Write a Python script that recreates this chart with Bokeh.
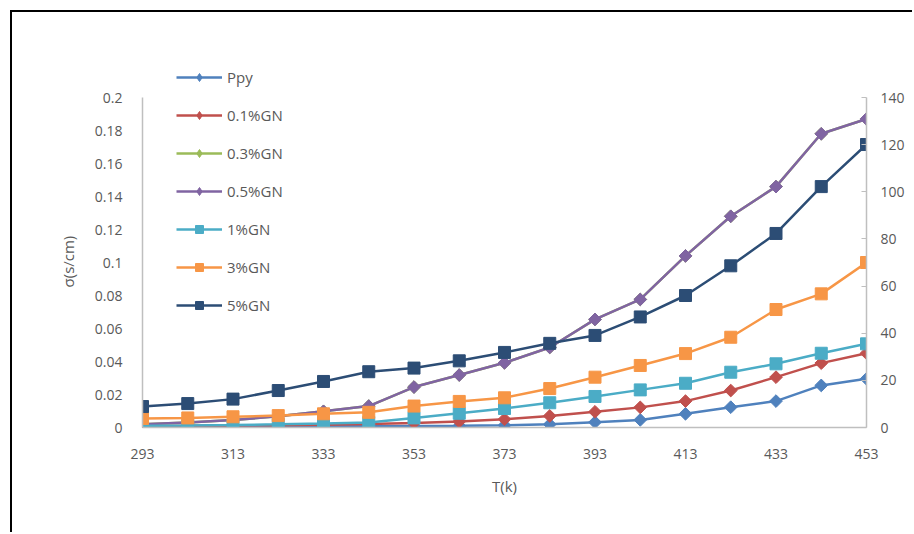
import math
from bokeh.plotting import figure
from bokeh.models import (Range1d, LinearAxis, FixedTicker, CustomJSTickFormatter,
                          Legend, LegendItem)
from bokeh.embed import file_html
from bokeh.resources import INLINE

# ---- data (sigma, S/cm) ----
temps = [293, 303, 313, 323, 333, 343, 353, 363, 373, 383, 393, 403, 413, 423, 433, 443, 453]
ppy = [0.0004, 0.0005, 0.0006, 0.0006, 0.0007, 0.0008, 0.0009, 0.0010, 0.0013, 0.0019, 0.0032, 0.0046, 0.0083, 0.0123, 0.0160, 0.0255, 0.0295]
gn01 = [0.0008, 0.0010, 0.0012, 0.0014, 0.0017, 0.0021, 0.0028, 0.0036, 0.0050, 0.0070, 0.0095, 0.0122, 0.0160, 0.0224, 0.0305, 0.0390, 0.0450]
gn03 = [0.0020, 0.0030, 0.0045, 0.0068, 0.0098, 0.0130, 0.0245, 0.0318, 0.0392, 0.0485, 0.0655, 0.0776, 0.1040, 0.1280, 0.1460, 0.1780, 0.1870]
gn05 = [0.0020, 0.0030, 0.0045, 0.0068, 0.0098, 0.0130, 0.0245, 0.0318, 0.0392, 0.0485, 0.0655, 0.0776, 0.1040, 0.1280, 0.1460, 0.1780, 0.1870]
gn1 = [0.0010, 0.0012, 0.0015, 0.0019, 0.0024, 0.0030, 0.0058, 0.0086, 0.0115, 0.0150, 0.0188, 0.0228, 0.0268, 0.0335, 0.0386, 0.0450, 0.0507]
gn3 = [0.0055, 0.0058, 0.0065, 0.0072, 0.0083, 0.0092, 0.0130, 0.0158, 0.0180, 0.0236, 0.0305, 0.0376, 0.0448, 0.0547, 0.0715, 0.0810, 0.1000]
gn5 = [0.0127, 0.0145, 0.0172, 0.0224, 0.0279, 0.0338, 0.0360, 0.0404, 0.0455, 0.0510, 0.0558, 0.0670, 0.0800, 0.0980, 0.1176, 0.1460, 0.1715]

names = ["Ppy", "0.1%GN", "0.3%GN", "0.5%GN", "1%GN", "3%GN", "5%GN"]
series = [ppy, gn01, gn03, gn05, gn1, gn3, gn5]
colors = ["#4F81BD", "#C0504D", "#9BBB59", "#8064A2", "#4BACC6", "#F79646", "#2C4D75"]
markers = ["diamond", "diamond", "diamond", "diamond", "square", "square", "square"]

x_ticks = [293, 313, 333, 353, 373, 393, 413, 433, 453]
y_ticks = [0, 0.02, 0.04, 0.06, 0.08, 0.1, 0.12, 0.14, 0.16, 0.18, 0.2]
y2_ticks = [0, 20, 40, 60, 80, 100, 120, 140]

FONT = "Open Sans"
GREY = "#595959"
AXIS_GREY = "#BFBFBF"

# frame is taller than the axes (axes bounded to 0..0.2 / 0..140) so the legend fits
p = figure(frame_width=724, frame_height=363, min_border_left=130, min_border_right=46,
           min_border_top=52, min_border_bottom=105,
           x_range=Range1d(293, 453), y_range=Range1d(0, 0.22),
           output_backend="svg", toolbar_location=None)
p.styles = {"margin-left": "10px", "margin-top": "10px",
            "border-left": "2px solid black", "border-top": "2px solid black"}
p.outline_line_color = None
p.xgrid.visible = False
p.ygrid.visible = False
p.extra_y_ranges = {"right": Range1d(0, 154)}

# axes
p.xaxis.ticker = FixedTicker(ticks=x_ticks)
p.xaxis.axis_label = "T(k)"
p.yaxis.ticker = FixedTicker(ticks=y_ticks)
p.yaxis.formatter = CustomJSTickFormatter(code="return String(Math.round(tick*100)/100);")
p.yaxis.axis_label = "σ(s/cm)" + "\u00a0" * 8
p.yaxis.bounds = (0, 0.2)

ax2 = LinearAxis(y_range_name="right", ticker=FixedTicker(ticks=y2_ticks), bounds=(0, 140))
p.add_layout(ax2, "right")

for ax in [p.xaxis[0], p.yaxis[0], ax2]:
    ax.axis_line_color = AXIS_GREY
    ax.axis_line_width = 1.5
    ax.major_tick_line_color = None
    ax.minor_tick_line_color = None
    ax.major_label_text_font = FONT
    ax.major_label_text_font_size = "14px"
    ax.major_label_text_color = GREY
    ax.axis_label_text_font = FONT
    ax.axis_label_text_font_size = "15px"
    ax.axis_label_text_font_style = "normal"
    ax.axis_label_text_color = GREY

ax2.major_tick_line_color = AXIS_GREY
ax2.major_tick_in = 5
ax2.major_tick_out = 0
ax2.major_label_standoff = 2
p.xaxis.major_label_standoff = 15
p.xaxis.axis_label_standoff = 14
p.yaxis.major_label_standoff = 14
p.yaxis.axis_label_standoff = 14

items = []
for name, vals, col, mk in zip(names, series, colors, markers):
    r1 = p.line(temps, vals, line_color=col, line_width=2.5)
    if mk == "diamond":
        p.scatter(temps, vals, marker="square", size=9, angle=math.pi / 4,
                  fill_color=col, line_color=col)
        # hidden proxy used only for the legend swatch (legend does not rotate glyphs)
        r2 = p.scatter(temps, vals, marker="diamond", size=15, fill_color=col,
                       line_color=col, visible=False)
    else:
        r2 = p.scatter(temps, vals, marker="square", size=12, fill_color=col, line_color=col)
    items.append(LegendItem(label=name, renderers=[r1, r2]))

legend = Legend(items=items, location=(34, 112), orientation="vertical",
                glyph_width=46, glyph_height=20, label_height=20, spacing=18,
                label_standoff=5, padding=0, margin=0,
                label_text_font=FONT, label_text_font_size="15px", label_text_color=GREY,
                border_line_color=None, background_fill_alpha=0)
p.add_layout(legend, "center")

open("out.html", "w").write(file_html(p, INLINE))
